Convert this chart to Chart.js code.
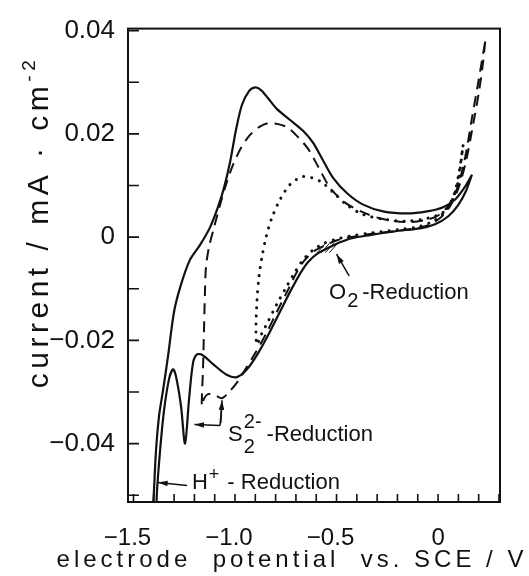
<!DOCTYPE html>
<html>
<head>
<meta charset="utf-8">
<script src="https://cdn.jsdelivr.net/npm/chart.js@4.4.0/dist/chart.umd.min.js"></script>
<style>
  html, body { margin: 0; padding: 0; background: #fff; }
  #box { width: 529px; height: 576px; }
</style>
</head>
<body>
<div id="box"><canvas id="cv"></canvas></div>
<script>
// cyclic voltammograms, each loop traced point by point (V vs. SCE, mA/cm2)
const solidPotential = [0.167, 0.138, 0.099, 0.049, -0.015, -0.089, -0.202, -0.335, -0.424, -0.483, -0.532, -0.591, -0.640, -0.680, -0.729, -0.778, -0.828, -0.887, -0.941, -0.990, -1.039, -1.108, -1.158, -1.187, -1.207, -1.227, -1.246, -1.266, -1.291, -1.305, -1.325, -1.350, -1.369, -1.384, -1.394,
  -1.409, -1.399, -1.389, -1.374, -1.355, -1.330, -1.300, -1.266, -1.222, -1.172, -1.123, -1.084, -1.054, -1.025, -0.995, -0.966, -0.931, -0.901, -0.872, -0.837, -0.793, -0.729, -0.665, -0.616, -0.571, -0.517, -0.448, -0.369, -0.271, -0.153, -0.054, 0.025, 0.084, 0.133, 0.167];
const solidCurrent = [0.0121, 0.0090, 0.0062, 0.0040, 0.0025, 0.0017, 0.0012, 0.0004, -0.0002, -0.0010, -0.0019, -0.0031, -0.0048, -0.0071, -0.0106, -0.0144, -0.0183, -0.0225, -0.0256, -0.0271, -0.0267, -0.0246, -0.0229, -0.0227, -0.0244, -0.0317, -0.0400, -0.0327, -0.0269, -0.0256, -0.0275, -0.0337, -0.0413, -0.0490, -0.0567,
  -0.0567, -0.0490, -0.0413, -0.0346, -0.0298, -0.0231, -0.0144, -0.0092, -0.0044, -0.0015, 0.0019, 0.0058, 0.0096, 0.0144, 0.0208, 0.0256, 0.0283, 0.0290, 0.0285, 0.0269, 0.0248, 0.0227, 0.0206, 0.0183, 0.0152, 0.0115, 0.0085, 0.0063, 0.0050, 0.0046, 0.0050, 0.0058, 0.0073, 0.0098, 0.0121];

const dashedPotential = [0.232, 0.222, 0.202, 0.172, 0.138, 0.103, 0.059, 0.010, -0.064, -0.187, -0.335, -0.433, -0.498, -0.552, -0.611, -0.660, -0.700, -0.744, -0.793, -0.847, -0.901, -0.946, -0.985, -1.025, -1.064, -1.099, -1.133, -1.153, -1.163,
  -1.163, -1.158, -1.153, -1.148, -1.143, -1.128, -1.103, -1.074, -1.044, -1.010, -0.970, -0.926, -0.882, -0.837, -0.788, -0.739, -0.690, -0.640, -0.591, -0.532, -0.458, -0.369, -0.271, -0.153, -0.064, 0.000, 0.049, 0.094, 0.133, 0.167, 0.197, 0.232];
const dashedCurrent = [0.0379, 0.0340, 0.0283, 0.0217, 0.0148, 0.0098, 0.0060, 0.0037, 0.0021, 0.0013, 0.0006, 0.0000, -0.0006, -0.0015, -0.0027, -0.0046, -0.0071, -0.0106, -0.0144, -0.0187, -0.0225, -0.0254, -0.0279, -0.0298, -0.0312, -0.0306, -0.0304, -0.0313, -0.0327,
  -0.0308, -0.0260, -0.0183, -0.0106, -0.0058, -0.0019, 0.0019, 0.0062, 0.0102, 0.0140, 0.0173, 0.0198, 0.0213, 0.0221, 0.0219, 0.0212, 0.0194, 0.0171, 0.0137, 0.0096, 0.0067, 0.0048, 0.0035, 0.0029, 0.0033, 0.0042, 0.0060, 0.0094, 0.0154, 0.0231, 0.0298, 0.0379];

const dottedPotential = [0.123, 0.103, 0.079, 0.039, -0.015, -0.089, -0.187, -0.335, -0.433, -0.502, -0.562, -0.616, -0.665, -0.704, -0.749, -0.793, -0.837, -0.872, -0.892,
  -0.897, -0.892, -0.882, -0.867, -0.847, -0.818, -0.778, -0.729, -0.670, -0.621, -0.571, -0.517, -0.448, -0.369, -0.271, -0.153, -0.049, 0.025, 0.069, 0.099, 0.123];
const dottedCurrent = [0.0177, 0.0125, 0.0083, 0.0052, 0.0033, 0.0021, 0.0015, 0.0008, 0.0002, -0.0004, -0.0012, -0.0025, -0.0044, -0.0067, -0.0098, -0.0129, -0.0163, -0.0190, -0.0208,
  -0.0183, -0.0125, -0.0077, -0.0038, 0.0000, 0.0038, 0.0073, 0.0102, 0.0117, 0.0115, 0.0106, 0.0087, 0.0062, 0.0044, 0.0035, 0.0031, 0.0037, 0.0048, 0.0071, 0.0108, 0.0177];

const xLabelValues = [-1.5, -1.0, -0.5, 0];
const xLabelText = ['\u22121.5', '\u22121.0', '\u22120.5', '0'];
const yLabelValues = [0.04, 0.02, 0, -0.02, -0.04];
const yLabelText = ['0.04', '0.02', '0', '\u22120.02', '\u22120.04'];

const toPoints = (xs, ys) => xs.map((v, i) => ({ x: v, y: ys[i] }));

Chart.defaults.font.family = '"Liberation Sans", Arial, sans-serif';
Chart.defaults.color = '#111';

function arrow(ctx, x1, y1, x2, y2) {
  const ang = Math.atan2(y2 - y1, x2 - x1);
  ctx.beginPath();
  ctx.moveTo(x1, y1);
  ctx.lineTo(x2, y2);
  ctx.stroke();
  ctx.beginPath();
  ctx.moveTo(x2, y2);
  ctx.lineTo(x2 - 10 * Math.cos(ang - 0.28), y2 - 10 * Math.sin(ang - 0.28));
  ctx.lineTo(x2 - 10 * Math.cos(ang + 0.28), y2 - 10 * Math.sin(ang + 0.28));
  ctx.closePath();
  ctx.fill();
}

// draws text pieces left to right: [text, size, dy, gap]
function pieces(ctx, x, y, parts) {
  parts.forEach(([t, size, dy, gap]) => {
    ctx.font = size + 'px "Liberation Sans", Arial, sans-serif';
    ctx.fillText(t, x, y + dy);
    x += ctx.measureText(t).width + (gap || 0);
  });
}

const frame = {
  id: 'frame',
  afterDraw(chart) {
    const { ctx, chartArea: a, scales: { x, y } } = chart;
    const X = v => x.getPixelForValue(v);
    const Y = v => y.getPixelForValue(v);
    ctx.save();
    ctx.strokeStyle = '#111';
    ctx.fillStyle = '#111';
    ctx.lineWidth = 2;
    ctx.strokeRect(a.left, a.top, a.right - a.left, a.bottom - a.top);
    ctx.lineWidth = 1.6;
    ctx.beginPath();
    x.ticks.forEach(t => { const p = X(t.value); ctx.moveTo(p, a.bottom); ctx.lineTo(p, a.bottom - 8); });
    y.ticks.forEach(t => { const p = Y(t.value); ctx.moveTo(a.left, p); ctx.lineTo(a.left + 11, p); });
    ctx.stroke();

    // axis titles
    ctx.textBaseline = 'alphabetic';
    ctx.textAlign = 'left';
    ctx.letterSpacing = '4px';
    ctx.font = '24px "Liberation Sans", Arial, sans-serif';
    const xt = 'electrode  potential  vs. SCE / V';
    const w = ctx.measureText(xt).width;
    ctx.fillText(xt, 292 - w / 2, 567);

    ctx.save();
    ctx.translate(48, 222);
    ctx.rotate(-Math.PI / 2);
    ctx.letterSpacing = '4.5px';
    ctx.font = '30px "Liberation Sans", Arial, sans-serif';
    const yt = 'current / mA \u00b7 cm';
    const w1 = ctx.measureText(yt).width;
    ctx.font = '19px "Liberation Sans", Arial, sans-serif';
    const w2 = ctx.measureText('-2').width;
    const sx = -(w1 + w2) / 2;
    ctx.font = '30px "Liberation Sans", Arial, sans-serif';
    ctx.fillText(yt, sx, 0);
    ctx.font = '19px "Liberation Sans", Arial, sans-serif';
    ctx.fillText('-2', sx + w1, -13);
    ctx.restore();
    ctx.letterSpacing = '0px';

    // annotations
    ctx.lineWidth = 1.5;
    arrow(ctx, X(-0.438), Y(-0.0075), X(-0.500), Y(-0.0033));
    pieces(ctx, X(-0.537), Y(-0.0119), [['O', 22, 0, 1], ['2', 20, 8, 4], ['-Reduction', 22, 0]]);

    ctx.beginPath();
    ctx.moveTo(X(-1.074), Y(-0.0365));
    ctx.lineTo(X(-1.066), Y(-0.0330));
    ctx.stroke();
    arrow(ctx, X(-1.074), Y(-0.0365), X(-1.200), Y(-0.0363));
    arrow(ctx, X(-1.070), Y(-0.0360), X(-1.064), Y(-0.0316));
    const sx0 = X(-1.034), sy0 = Y(-0.0394);
    ctx.font = '22px "Liberation Sans", Arial, sans-serif';
    ctx.fillText('S', sx0, sy0);
    const sw = ctx.measureText('S').width + 1;
    ctx.font = '20px "Liberation Sans", Arial, sans-serif';
    ctx.fillText('2', sx0 + sw, sy0 + 12);
    ctx.fillText('2-', sx0 + sw, sy0 - 13);
    pieces(ctx, sx0 + sw + ctx.measureText('2-').width + 5, sy0, [['-Reduction', 22, 0]]);

    arrow(ctx, X(-1.236), Y(-0.0481), X(-1.379), Y(-0.0475));
    pieces(ctx, X(-1.212), Y(-0.0487), [['H', 22, 0, 1], ['+', 18, -9, 8], ['- Reduction', 22, 0]]);

    // hatching of the O2 reduction wave between solid and dashed loops
    ctx.lineWidth = 1;
    ctx.beginPath();
    [-0.575, -0.555, -0.535, -0.515].forEach(v => {
      ctx.moveTo(X(v - 0.02), Y(-0.0030));
      ctx.lineTo(X(v + 0.02), Y(-0.0012));
    });
    ctx.stroke();
    ctx.restore();
  }
};

new Chart(document.getElementById('cv'), {
  type: 'scatter',
  data: {
    datasets: [
      {
        label: 'solid',
        data: toPoints(solidPotential, solidCurrent),
        showLine: true,
        borderColor: '#111',
        borderWidth: 2.2,
        pointRadius: 0,
        tension: 0.3
      },
      {
        label: 'dashed',
        data: toPoints(dashedPotential, dashedCurrent),
        showLine: true,
        borderColor: '#111',
        borderWidth: 2,
        borderDash: [11, 7],
        pointRadius: 0,
        tension: 0.3
      },
      {
        label: 'dotted',
        data: toPoints(dottedPotential, dottedCurrent),
        showLine: true,
        borderColor: '#111',
        borderWidth: 3,
        borderDash: [0.1, 8],
        borderCapStyle: 'round',
        pointRadius: 0,
        tension: 0.3
      }
    ]
  },
  options: {
    responsive: true,
    maintainAspectRatio: false,
    animation: false,
    layout: { padding: { top: 25, right: 29, left: 0, bottom: 0 } },
    plugins: { legend: { display: false }, tooltip: { enabled: false } },
    scales: {
      x: {
        type: 'linear',
        min: -1.527,
        max: 0.305,
        grid: { display: false, drawTicks: false },
        border: { display: false },
        afterFit: s => { s.height = 74; },
        ticks: {
          stepSize: 0.1,
          includeBounds: false,
          autoSkip: false,
          maxRotation: 0,
          padding: 22,
          font: { size: 24 },
          color: '#111',
          callback: v => {
            const i = xLabelValues.findIndex(t => Math.abs(t - v) < 1e-6);
            if (i < 0) return '';
            return xLabelText[i].charAt(0) === '\u2212' ? xLabelText[i] + '\u2002' : xLabelText[i];
          }
        }
      },
      y: {
        type: 'linear',
        min: -0.0513,
        max: 0.0404,
        grid: { display: false, drawTicks: false },
        border: { display: false },
        afterFit: s => { s.width = 128; },
        ticks: {
          stepSize: 0.01,
          includeBounds: false,
          autoSkip: false,
          padding: 13,
          font: { size: 26 },
          color: '#111',
          callback: v => {
            const i = yLabelValues.findIndex(t => Math.abs(t - v) < 1e-7);
            return i < 0 ? '' : yLabelText[i];
          }
        }
      }
    }
  },
  plugins: [frame]
});
</script>
</body>
</html>
